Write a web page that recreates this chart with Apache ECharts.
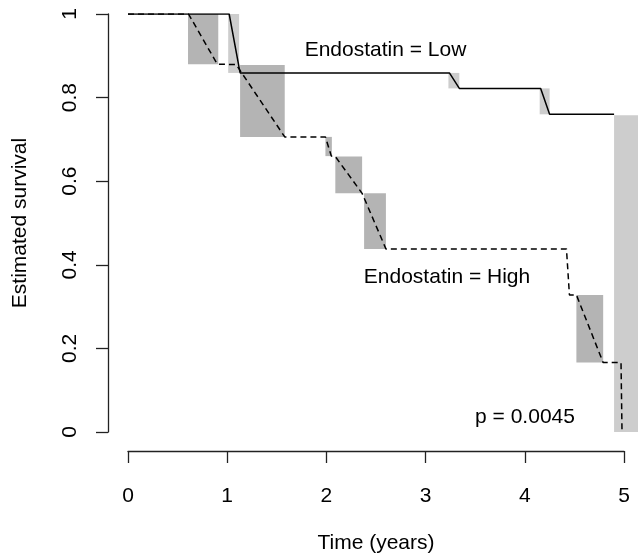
<!DOCTYPE html>
<html>
<head>
<meta charset="utf-8">
<script src="https://cdn.jsdelivr.net/npm/echarts@6/dist/echarts.min.js"></script>
<style>
html,body{margin:0;padding:0;background:#fff;}
#chart{width:638px;height:559px;}
</style>
</head>
<body>
<div id="chart"></div>
<script>
// Time (years), survival for each curve (drops drawn across the shaded interval)
const lowCurve = [[0,1],[1.02,1],[1.13,0.859],[3.24,0.859],[3.34,0.822],[4.16,0.822],[4.25,0.760],[4.9,0.760]];
const highCurve = [[0,1],[0.61,1],[0.9,0.880],[1.09,0.879],[1.58,0.706],[1.99,0.706],[2.05,0.660],[2.09,0.659],[2.36,0.571],[2.38,0.571],[2.6,0.438],[4.42,0.438],[4.45,0.328],[4.52,0.328],[4.79,0.166],[4.97,0.166],[4.98,0]];
// Shaded boxes: [tStart, tEnd, survTop, survBottom]
const lowBoxes = [[1.01,1.12,1,0.859],[3.23,3.34,0.859,0.822],[4.15,4.25,0.822,0.760],[4.9,5.25,0.758,0]];
const highBoxes = [[0.605,0.91,1,0.880],[1.13,1.58,0.878,0.706],[1.99,2.055,0.706,0.660],[2.09,2.36,0.659,0.571],[2.38,2.6,0.571,0.438],[4.52,4.79,0.328,0.166]];
const xTicks = [0,1,2,3,4,5];
const yTicks = [0,0.2,0.4,0.6,0.8,1];

const FONT = 'Liberation Sans, Arial, sans-serif';
const FS = 21;

function boxSeries(data, color) {
  return {
    type: 'custom',
    clip: false,
    silent: true,
    data: data,
    encode: {x: [0,1], y: [2,3]},
    renderItem: function (params, api) {
      const p1 = api.coord([api.value(0), api.value(2)]);
      const p2 = api.coord([api.value(1), api.value(3)]);
      return {
        type: 'rect',
        shape: {x: p1[0], y: p1[1], width: p2[0]-p1[0], height: p2[1]-p1[1]},
        style: {fill: color}
      };
    }
  };
}

const chart = echarts.init(document.getElementById('chart'), null, {renderer: 'canvas'});
chart.setOption({
  animation: false,
  backgroundColor: '#ffffff',
  grid: {left: 128, right: 14, top: 14, bottom: 127, containLabel: false},
  xAxis: {
    type: 'value', min: 0, max: 5, interval: 1, offset: 19,
    name: 'Time (years)', nameLocation: 'middle', nameGap: 82,
    nameTextStyle: {fontFamily: FONT, fontSize: FS, color: '#000'},
    axisLine: {show: true, onZero: false, lineStyle: {color: '#222', width: 1.3}},
    axisTick: {show: true, length: 12, lineStyle: {color: '#222', width: 1.3}},
    axisLabel: {margin: 35, fontFamily: FONT, fontSize: FS, color: '#000',
      formatter: function (v) { return xTicks.indexOf(v) >= 0 ? String(v) : ''; }},
    splitLine: {show: false}
  },
  yAxis: {
    type: 'value', min: 0, max: 1, interval: 0.2, offset: 20,
    name: 'Estimated survival', nameLocation: 'middle', nameGap: 77,
    nameTextStyle: {fontFamily: FONT, fontSize: FS, color: '#000'},
    axisLine: {show: true, onZero: false, lineStyle: {color: '#222', width: 1.3}},
    axisTick: {show: true, length: 12, lineStyle: {color: '#222', width: 1.3}},
    axisLabel: {margin: 27, rotate: 90, fontFamily: FONT, fontSize: FS, color: '#000',
      formatter: function (v) { const r = Math.round(v*10)/10; return yTicks.indexOf(r) >= 0 ? String(r) : ''; }},
    splitLine: {show: false}
  },
  series: [
    boxSeries(highBoxes, '#b4b4b4'),
    boxSeries(lowBoxes, '#cdcdcd'),
    {
      type: 'line', data: lowCurve, showSymbol: false, silent: true,
      lineStyle: {color: '#000', width: 1.5, type: 'solid'}, z: 5
    },
    {
      type: 'line', data: highCurve, showSymbol: false, silent: true,
      lineStyle: {color: '#000', width: 1.5, type: [6,4]}, z: 5
    }
  ],
  graphic: [
    {type: 'text', x: 385.5, y: 50, style: {text: 'Endostatin = Low', font: FS + 'px ' + FONT, fill: '#000', align: 'center', verticalAlign: 'middle'}},
    {type: 'text', x: 447, y: 277, style: {text: 'Endostatin = High', font: FS + 'px ' + FONT, fill: '#000', align: 'center', verticalAlign: 'middle'}},
    {type: 'text', x: 525, y: 417, style: {text: 'p = 0.0045', font: FS + 'px ' + FONT, fill: '#000', align: 'center', verticalAlign: 'middle'}}
  ]
});
</script>
</body>
</html>
